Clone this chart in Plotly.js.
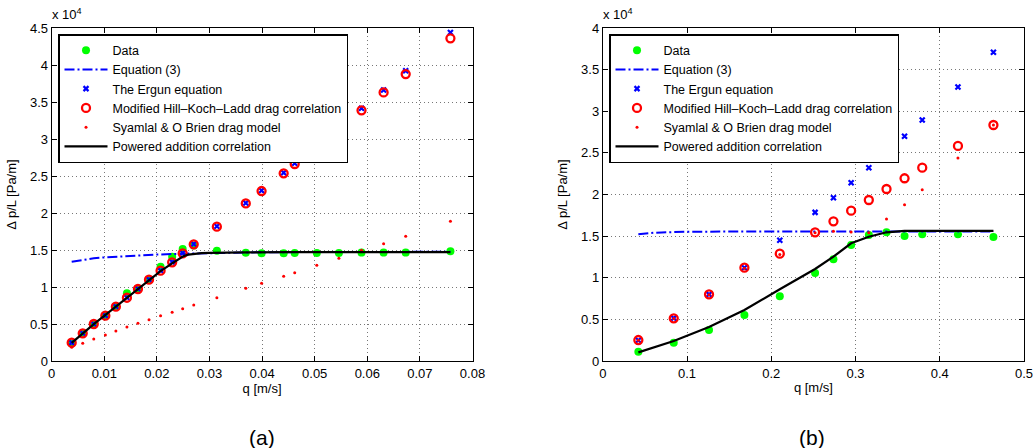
<!DOCTYPE html>
<html>
<head>
<meta charset="utf-8">
<script src="https://cdn.plot.ly/plotly-3.0.1.min.js"></script>
<style>html,body{margin:0;padding:0;background:#fff;}#chart{width:1035px;height:448px;}</style>
</head>
<body>
<div id="chart"></div>
<script>
// ---------- Panel (a) ----------
const qA = [0.0038,0.0059,0.0080,0.0102,0.0122,0.0143,0.0164,0.0185,0.0207,0.0229,0.0249,0.0270,0.0314,0.0369,0.0399,0.0441,0.0462,0.0504,0.0546,0.0589,0.0631,0.0673,0.0758];
const dataA = [2350,3800,5000,6150,7400,9150,9800,11000,12740,14100,15130,15600,14900,14630,14550,14550,14590,14600,14600,14650,14650,14650,14820];
const ergunA = [2480,3760,5000,6140,7360,8580,9760,11020,12240,13380,14600,15820,18200,21350,23050,25450,26720,29150,31500,34150,36620,39230,44400];
const hillA = [2470,3740,5000,6120,7340,8550,9730,10990,12200,13340,14550,15770,18150,21300,22970,25360,26620,29100,31450,33880,36300,38780,43600];
const syamA = [1850,2390,2970,3510,4050,4590,5090,5580,6120,6580,7070,7570,8550,9820,10500,11450,11930,12930,13880,14960,15850,16850,18880];
const eq3qA = [0.0038,0.006,0.008,0.010,0.0125,0.015,0.0175,0.020,0.025,0.030,0.035,0.040,0.050,0.060,0.070,0.0758];
const eq3A = [13400,13700,13880,14000,14120,14220,14300,14380,14500,14600,14660,14700,14720,14740,14750,14760];
const powqA = [0.0038,0.0080,0.0122,0.0164,0.0207,0.0229,0.0240,0.0250,0.0260,0.0270,0.0285,0.0300,0.0330,0.0370,0.0450,0.0550,0.0650,0.0758];
const powA = [2450,4980,7360,9750,12150,13200,13750,14150,14380,14500,14580,14620,14660,14680,14700,14700,14700,14700];

// ---------- Panel (b) ----------
const qB = [0.0422,0.0842,0.1261,0.1681,0.2101,0.2520,0.2738,0.2948,0.3158,0.3368,0.3582,0.3792,0.4216,0.4637];
const dataB = [1120,2200,3720,5530,7770,10570,12220,13930,15140,15460,15020,15220,15220,14890];
const ergunB = [2500,5150,8000,11200,14500,17850,19620,21420,23220,25100,26990,28950,32910,37080];
const hillB = [2520,5130,8010,11210,12890,15460,16780,18060,19340,20660,21950,23220,25830,28350];
const syamB = [2500,5100,7950,11150,12800,15400,15600,15500,15410,17060,18780,20560,24380,28350];
const eq3qB = [0.0422,0.05,0.06,0.07,0.084,0.10,0.126,0.168,0.21,0.252,0.30,0.35,0.40,0.4637];
const eq3B = [15220,15320,15400,15450,15500,15520,15540,15550,15550,15550,15560,15560,15560,15560];
const powqB = [0.0422,0.0842,0.1261,0.1681,0.2101,0.2520,0.2738,0.2948,0.3158,0.3368,0.3582,0.3792,0.4216,0.4637];
const powB = [1040,2400,4080,6130,8610,11050,12530,14140,14930,15460,15620,15620,15620,15620];

// ---------- Ticks ----------
const xTicksA = [0,0.01,0.02,0.03,0.04,0.05,0.06,0.07,0.08];
const xLabelsA = ["0","0.01","0.02","0.03","0.04","0.05","0.06","0.07","0.08"];
const yTicksA = [0,5000,10000,15000,20000,25000,30000,35000,40000,45000];
const yLabelsA = ["0","0.5","1","1.5","2","2.5","3","3.5","4","4.5"];
const xTicksB = [0,0.1,0.2,0.3,0.4,0.5];
const xLabelsB = ["0","0.1","0.2","0.3","0.4","0.5"];
const yTicksB = [0,5000,10000,15000,20000,25000,30000,35000,40000];
const yLabelsB = ["0","0.5","1","1.5","2","2.5","3","3.5","4"];

const names = ["Data","Equation (3)","The Ergun equation","Modified Hill\u2013Koch\u2013Ladd drag correlation","Syamlal & O Brien drag model","Powered addition correlation"];

function panel(q, data, ergun, hill, syam, eq3q, eq3, powq, pow, xa, ya, leg) {
  return [
    {x:q, y:data, name:names[0], mode:'markers', type:'scatter', xaxis:xa, yaxis:ya, legend:leg,
     marker:{color:'#00ff00', size:8, symbol:'circle'}},
    {x:eq3q, y:eq3, name:names[1], mode:'lines', type:'scatter', xaxis:xa, yaxis:ya, legend:leg,
     line:{color:'#0000ff', width:2, dash:'10px,3px,2px,3px'}},
    {x:q, y:ergun, name:names[2], mode:'markers', type:'scatter', xaxis:xa, yaxis:ya, legend:leg,
     marker:{color:'#0000ff', size:5, symbol:'x-thin-open', line:{color:'#0000ff', width:2.2}}},
    {x:q, y:hill, name:names[3], mode:'markers', type:'scatter', xaxis:xa, yaxis:ya, legend:leg,
     marker:{color:'#ff0000', size:8, symbol:'circle-open', line:{color:'#ff0000', width:2.3}}},
    {x:q, y:syam, name:names[4], mode:'markers', type:'scatter', xaxis:xa, yaxis:ya, legend:leg,
     marker:{color:'#ff0000', size:3, symbol:'circle'}},
    {x:powq, y:pow, name:names[5], mode:'lines', type:'scatter', xaxis:xa, yaxis:ya, legend:leg,
     line:{color:'#000000', width:2.2}}
  ];
}

const traces = panel(qA, dataA, ergunA, hillA, syamA, eq3qA, eq3A, powqA, powA, 'x', 'y', 'legend')
  .concat(panel(qB, dataB, ergunB, hillB, syamB, eq3qB, eq3B, powqB, powB, 'x2', 'y2', 'legend2'));

const FAM = 'Liberation Sans, Arial, sans-serif';
const font = {family:FAM, size:13, color:'#000'};
function xax(dom, rng, tv, tt, anchor) {
  return {domain:dom, range:rng, anchor:anchor, tickvals:tv, ticktext:tt, showline:true, linecolor:'#000', linewidth:1,
    mirror:'ticks', ticks:'inside', ticklen:5, tickcolor:'#000', showgrid:true, gridcolor:'#777', griddash:'1px,3px', gridwidth:1,
    zeroline:false, tickfont:font, title:{text:'q [m/s]', font:font, standoff:3}, automargin:false};
}
function yax(dom, rng, tv, tt, anchor) {
  return {domain:dom, range:rng, anchor:anchor, tickvals:tv, ticktext:tt, showline:true, linecolor:'#000', linewidth:1,
    mirror:'ticks', ticks:'inside', ticklen:5, tickcolor:'#000', showgrid:true, gridcolor:'#777', griddash:'1px,3px', gridwidth:1,
    zeroline:false, tickfont:font, title:{text:'\u0394 p/L [Pa/m]', font:font, standoff:10}, automargin:false};
}
const yDom = [1-361/448, 1-28/448];
const legStyle = (x) => ({x:x, y:1-34/448, xanchor:'left', yanchor:'top', bgcolor:'#fff', bordercolor:'#000', borderwidth:1.5,
  font:{family:FAM, size:12.5, color:'#000'}, tracegroupgap:0, itemwidth:43});

const layout = {
  width:1035, height:448, margin:{l:0, r:0, t:0, b:0}, paper_bgcolor:'#fff', plot_bgcolor:'#fff',
  showlegend:true, font:font,
  xaxis: xax([51.7/1035, 472.5/1035], [0,0.08], xTicksA, xLabelsA, 'y'),
  yaxis: yax(yDom, [0,45000], yTicksA, yLabelsA, 'x'),
  xaxis2: xax([602.8/1035, 1024/1035], [0,0.5], xTicksB, xLabelsB, 'y2'),
  yaxis2: yax(yDom, [0,40000], yTicksB, yLabelsB, 'x2'),
  legend: legStyle(58/1035),
  legend2: legStyle(609/1035),
  annotations: [
    {text:'x 10<sup>4</sup>', xref:'paper', yref:'paper', x:50/1035, y:1-24/448, xanchor:'left', yanchor:'bottom', showarrow:false, font:font},
    {text:'x 10<sup>4</sup>', xref:'paper', yref:'paper', x:601/1035, y:1-24/448, xanchor:'left', yanchor:'bottom', showarrow:false, font:font},
    {text:'(a)', xref:'paper', yref:'paper', x:262/1035, y:1-437/448, xanchor:'center', yanchor:'middle', showarrow:false, font:{family:FAM, size:21, color:'#000'}},
    {text:'(b)', xref:'paper', yref:'paper', x:812/1035, y:1-437/448, xanchor:'center', yanchor:'middle', showarrow:false, font:{family:FAM, size:21, color:'#000'}}
  ]
};

Plotly.newPlot('chart', traces, layout, {staticPlot:true, displayModeBar:false});
</script>
</body>
</html>
